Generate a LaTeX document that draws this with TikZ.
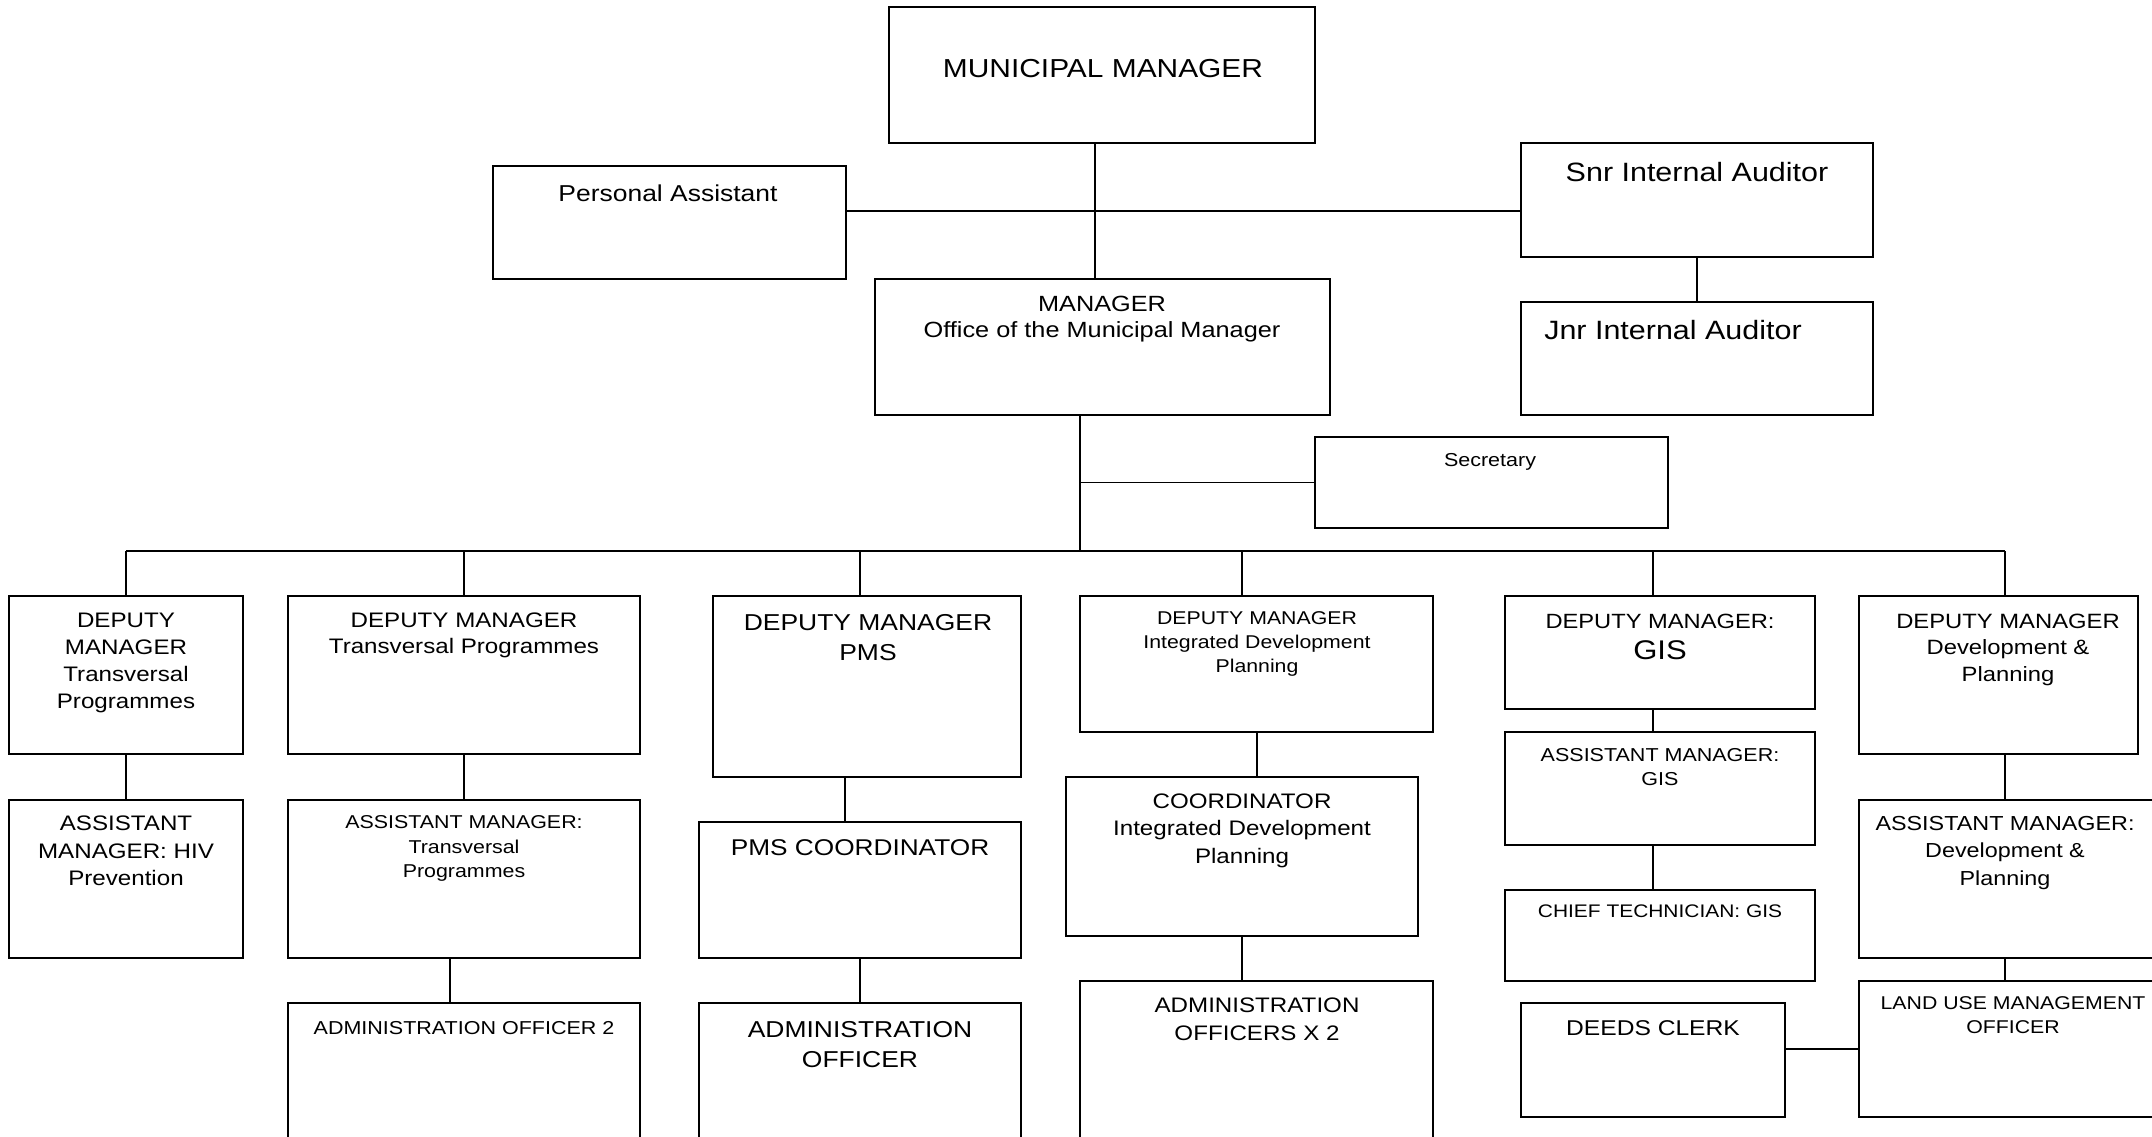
\documentclass[tikz,border=0pt]{standalone}
\usepackage{fontspec}
\setmainfont{Liberation Sans}[FakeStretch=1.15]
\tikzset{
 obox/.style={draw, line width=1.6pt, inner sep=0pt, outer sep=0pt, fill=white},
 lbl/.style={anchor=north, inner sep=0pt, outer sep=0pt, align=center},
 link/.style={line width=1.6pt},
}
\newcommand\orgbox[5]{\node[obox, minimum width={#4-#2}, minimum height={#5-#3}] (#1) at ({(#2+#4)/2},{(#3+#5)/2}) {};}
\newcommand\fsz[2]{\fontsize{#1}{#2}\selectfont}
\begin{document}
\begin{tikzpicture}[x=1pt,y=-1pt]
\fill[white] (0,0) rectangle (2152,1136);
\useasboundingbox (0,0) rectangle (2152,1136);
\clip (0,0) rectangle (2152,1136);
% boxes
\orgbox{mm}{889}{7}{1315}{143}
\orgbox{pa}{493}{166}{846}{279}
\orgbox{snr}{1521}{143}{1873}{257}
\orgbox{jnr}{1521}{302}{1873}{415}
\orgbox{mgr}{875}{279}{1330}{415}
\orgbox{sec}{1315}{437}{1668}{528}
\orgbox{dma}{9}{596}{243}{754}
\orgbox{hiv}{9}{800}{243}{958}
\orgbox{dmb}{288}{596}{640}{754}
\orgbox{astr}{288}{800}{640}{958}
\orgbox{adma}{288}{1003}{640}{1180}
\orgbox{dmpms}{713}{596}{1021}{777}
\orgbox{pmsc}{699}{822}{1021}{958}
\orgbox{admo}{699}{1003}{1021}{1180}
\orgbox{dmidp}{1080}{596}{1433}{732}
\orgbox{coidp}{1066}{777}{1418}{936}
\orgbox{admx}{1080}{981}{1433}{1180}
\orgbox{dmgis}{1505}{596}{1815}{709}
\orgbox{agis}{1505}{732}{1815}{845}
\orgbox{chief}{1505}{890}{1815}{981}
\orgbox{deeds}{1521}{1003}{1785}{1117}
\orgbox{dmdp}{1859}{596}{2138}{754}
\orgbox{adp}{1859}{800}{2170}{958}
\orgbox{land}{1859}{981}{2170}{1117}
% coordinates
\coordinate (top) at (1095,211);
\coordinate (bus) at (1080,551);
\coordinate (da) at (126,551);
\coordinate (db) at (464,551);
\coordinate (dc) at (860,551);
\coordinate (dd) at (1242,551);
\coordinate (de) at (1653,551);
\coordinate (df) at (2005,551);
\coordinate (xa) at (450,0);
\coordinate (xb) at (845,0);
\coordinate (xc) at (1257,0);
\coordinate (dl) at (0,1049);
% connectors
\draw[link] (mm.south -| top) -- (mgr.north -| top);
\draw[link] (pa.east |- top) -- (snr.west |- top);
\draw[link] (snr.south) -- (jnr.north);
\draw[link] (mgr.south -| bus) -- (bus);
\draw[link] (bus |- sec.west) -- (sec.west);
\draw[link] (da) -- (df);
\draw[link] (da) -- (da |- dma.north);
\draw[link] (db) -- (db |- dmb.north);
\draw[link] (dc) -- (dc |- dmpms.north);
\draw[link] (dd) -- (dd |- dmidp.north);
\draw[link] (de) -- (de |- dmgis.north);
\draw[link] (df) -- (df |- dmdp.north);
\draw[link] (dma.south) -- (hiv.north);
\draw[link] (dmb.south) -- (astr.north);
\draw[link] (astr.south -| xa) -- (adma.north -| xa);
\draw[link] (dmpms.south -| xb) -- (pmsc.north -| xb);
\draw[link] (pmsc.south -| dc) -- (admo.north -| dc);
\draw[link] (dmidp.south -| xc) -- (coidp.north -| xc);
\draw[link] (coidp.south -| dd) -- (admx.north -| dd);
\draw[link] (dmgis.south -| de) -- (agis.north -| de);
\draw[link] (agis.south -| de) -- (chief.north -| de);
\draw[link] (dmdp.south -| df) -- (adp.north -| df);
\draw[link] (adp.south -| df) -- (land.north -| df);
\draw[link] (deeds.east |- dl) -- (land.west |- dl);
% labels
\node[lbl, font=\fsz{26}{34}] (tmm) at (1103,59) {MUNICIPAL MANAGER};
\node[lbl, font=\fsz{23}{30}] (tpa) at (668,185) {Personal Assistant};
\node[lbl, font=\fsz{26.5}{34}] (tsnr) at (1697,162) {Snr Internal Auditor};
\node[lbl, font=\fsz{26.5}{34}] (tjnr) at (1673,320) {Jnr Internal Auditor};
\node[lbl, font=\fsz{22}{26}] (tmgr) at (1102,296) {MANAGER\\Office of the Municipal Manager};
\node[lbl, font=\fsz{18.7}{24}] (tsec) at (1490,453) {Secretary};
\node[lbl, font=\fsz{21}{27}] (tdma) at (126,613) {DEPUTY\\MANAGER\\Transversal\\Programmes};
\node[lbl, font=\fsz{21}{26}] (tdmb) at (464,613) {DEPUTY MANAGER\\Transversal Programmes};
\node[lbl, font=\fsz{23}{30}] (tdmpms) at (868,614) {DEPUTY MANAGER\\PMS};
\node[lbl, font=\fsz{18.5}{24}] (tdmidp) at (1257,612) {DEPUTY MANAGER\\Integrated Development\\Planning};
\node[lbl, font=\fsz{20.6}{27}] (tdmgis) at (1660,614) {DEPUTY MANAGER:\\[4pt]{\fsz{27}{31}GIS}};
\node[lbl, font=\fsz{20.7}{26.5}] (tdmdp) at (2008,614) {DEPUTY MANAGER\\Development \&\\Planning};
\node[lbl, font=\fsz{21}{27.5}] (thiv) at (126,816) {ASSISTANT\\MANAGER: HIV\\Prevention};
\node[lbl, font=\fsz{18.6}{24.5}] (tastr) at (464,815.5) {ASSISTANT MANAGER:\\Transversal\\Programmes};
\node[lbl, font=\fsz{18.7}{24}] (tadma) at (464,1021) {ADMINISTRATION OFFICER 2};
\node[lbl, font=\fsz{22.8}{30}] (tpmsc) at (860,840) {PMS COORDINATOR};
\node[lbl, font=\fsz{23}{30}] (tadmo) at (860,1021) {ADMINISTRATION\\OFFICER};
\node[lbl, font=\fsz{21}{27.5}] (tcoidp) at (1242,793.5) {COORDINATOR\\Integrated Development\\Planning};
\node[lbl, font=\fsz{21}{27.4}] (tadmx) at (1257,998) {ADMINISTRATION\\OFFICERS X 2};
\node[lbl, font=\fsz{18.7}{24}] (tagis) at (1660,748) {ASSISTANT MANAGER:\\GIS};
\node[lbl, font=\fsz{18.2}{24}] (tchief) at (1660,905) {CHIEF TECHNICIAN: GIS};
\node[lbl, font=\fsz{21.4}{28}] (tdeeds) at (1653,1020.5) {DEEDS CLERK};
\node[lbl, font=\fsz{20.3}{27.5}] (tadp) at (2005,816) {ASSISTANT MANAGER:\\Development \&\\Planning};
\node[lbl, font=\fsz{18.5}{23.5}] (tland) at (2013,997) {LAND USE MANAGEMENT\\OFFICER};
\end{tikzpicture}
\end{document}
